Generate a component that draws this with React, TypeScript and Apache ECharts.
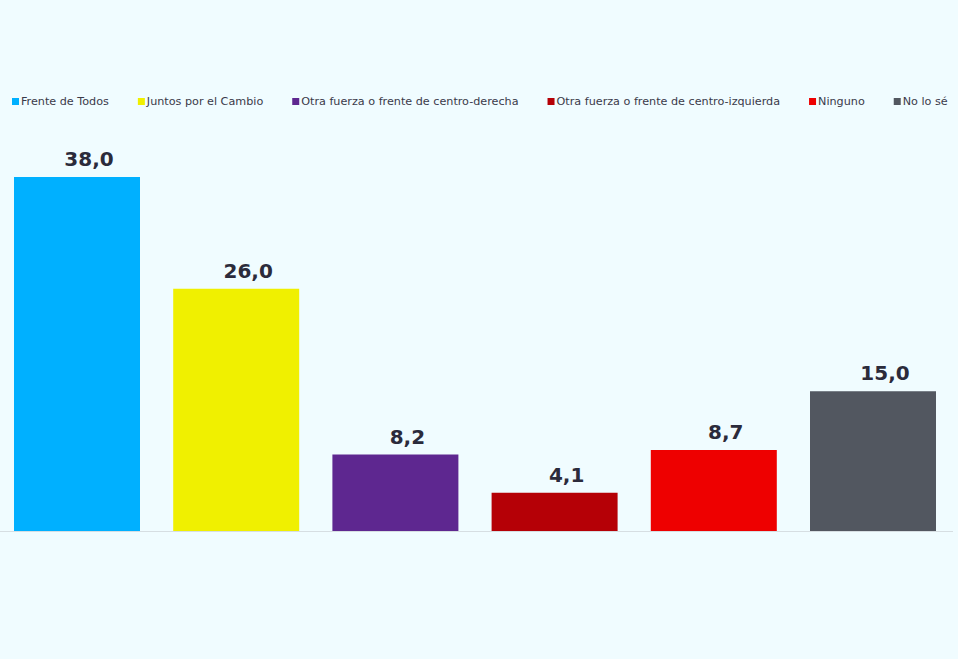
import React, { useEffect, useRef } from "react";
import * as echarts from "echarts";

const categories = [
  "Frente de Todos",
  "Juntos por el Cambio",
  "Otra fuerza o frente de centro-derecha",
  "Otra fuerza o frente de centro-izquierda",
  "Ninguno",
  "No lo sé",
];
const values = [38.0, 26.0, 8.2, 4.1, 8.7, 15.0];
const colors = ["#00B0FF", "#F0F000", "#5E2790", "#B50006", "#EE0000", "#525760"];

export default function App() {
  const ref = useRef<HTMLDivElement>(null);
  useEffect(() => {
    if (!ref.current) return;
    const chart = echarts.init(ref.current, undefined, { renderer: "svg" });
    const series = categories.map((name, i) => ({
      name,
      type: "bar",
      barWidth: 126,
      barGap: "-100%",
      itemStyle: { color: colors[i] },
      data: values.map((v, j) => (j === i ? v : "-")),
      label: {
        show: true,
        position: "top",
        distance: 8,
        offset: [12, 0],
        formatter: (p: any) => Number(p.value).toFixed(1).replace(".", ","),
        fontFamily: "DejaVu Sans, sans-serif",
        fontWeight: "bold",
        fontSize: 20,
        color: "#2B2B3B",
      },
    }));
    chart.setOption({
      animation: false,
      backgroundColor: "#F0FCFF",
      legend: {
        top: 91,
        left: 10,
        width: 950,
        itemWidth: 7,
        itemHeight: 7,
        itemGap: 29,
        icon: "rect",
        textStyle: {
          fontFamily: "DejaVu Sans, sans-serif",
          fontSize: 11.2,
          color: "#3A3A4A",
          padding: [0, 0, 0, -3],
        },
        data: categories,
      },
      grid: { left: 0.4, right: 5.4, top: 158.4, bottom: 128 },
      xAxis: {
        type: "category",
        data: categories,
        axisLine: { show: true, lineStyle: { color: "#D6DEE2", width: 1 } },
        axisTick: { show: false },
        axisLabel: { show: false },
      },
      yAxis: {
        type: "value",
        min: 0,
        max: 40,
        show: false,
        splitLine: { show: false },
      },
      series,
    });
    return () => chart.dispose();
  }, []);
  return (
    <div
      ref={ref}
      style={{ position: "absolute", left: -3, top: 0, width: 961, height: 659 }}
    />
  );
}
